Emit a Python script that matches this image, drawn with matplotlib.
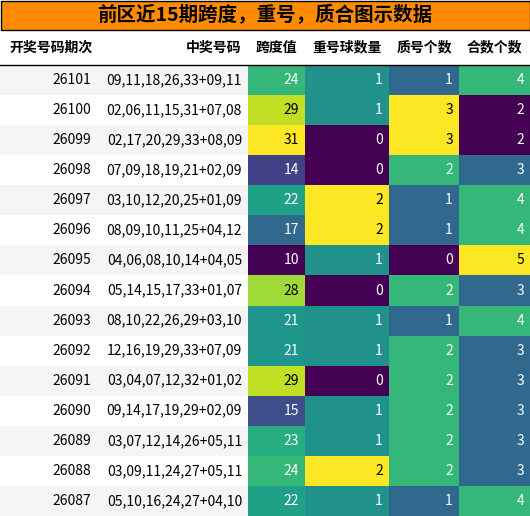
import matplotlib
matplotlib.use("Agg")
import matplotlib.pyplot as plt
from matplotlib.patches import Rectangle
from matplotlib import cm, colors

plt.rcParams['font.family'] = ['Noto Sans CJK SC', 'DejaVu Sans']

# === Daten ===
title = "前区近15期跨度，重号，质合图示数据"
headers = ["开奖号码期次", "中奖号码", "跨度值", "重号球数量", "质号个数", "合数个数"]
periods = ["26101", "26100", "26099", "26098", "26097", "26096", "26095", "26094",
           "26093", "26092", "26091", "26090", "26089", "26088", "26087"]
numbers = ["09,11,18,26,33+09,11", "02,06,11,15,31+07,08", "02,17,20,29,33+08,09",
           "07,09,18,19,21+02,09", "03,10,12,20,25+01,09", "08,09,10,11,25+04,12",
           "04,06,08,10,14+04,05", "05,14,15,17,33+01,07", "08,10,22,26,29+03,10",
           "12,16,19,29,33+07,09", "03,04,07,12,32+01,02", "09,14,17,19,29+02,09",
           "03,07,12,14,26+05,11", "03,09,11,24,27+05,11", "05,10,16,24,27+04,10"]
span = [24, 29, 31, 14, 22, 17, 10, 28, 21, 21, 29, 15, 23, 24, 22]
repeat = [1, 1, 0, 0, 2, 2, 1, 0, 1, 1, 0, 1, 1, 2, 1]
prime = [1, 3, 3, 2, 1, 1, 0, 2, 1, 2, 2, 2, 2, 2, 1]
composite = [4, 2, 2, 3, 4, 4, 5, 3, 4, 3, 3, 3, 3, 3, 4]

# Layout (Pixel)
W, H = 530, 516
col_edges = [0, 100, 248, 305, 389, 459, 530]
title_h = 30
header_h = 35
row_h = (H - title_h - header_h) / len(periods)

fig = plt.figure(figsize=(W / 100, H / 100), dpi=100)
ax = fig.add_axes([0, 0, 1, 1])
ax.set_xlim(0, W)
ax.set_ylim(H, 0)
ax.axis("off")

# Titel
ax.add_patch(Rectangle((0.5, 0.5), W - 1, title_h - 1, facecolor="#ff8c00", edgecolor="black", lw=1))
ax.text(W / 2, title_h / 2, title, ha="center", va="center", fontsize=14, fontweight="bold")

# Kopfzeile
hy = title_h + header_h / 2
for j, h in enumerate(headers):
    if j < 2:
        ax.text(col_edges[j + 1] - 7, hy, h, ha="right", va="center", fontsize=10, fontweight="bold")
    else:
        ax.text((col_edges[j] + col_edges[j + 1]) / 2, hy, h, ha="center", va="center",
                fontsize=10, fontweight="bold")
ax.plot([0, W], [title_h + header_h, title_h + header_h], color="black", lw=1)

cmap = cm.get_cmap("viridis")
value_cols = [span, repeat, prime, composite]

for i in range(len(periods)):
    y0 = title_h + header_h + i * row_h
    yc = y0 + row_h / 2
    if i % 2 == 0:
        ax.add_patch(Rectangle((0, y0), col_edges[2], row_h, facecolor="#f5f5f5", edgecolor="none"))
    ax.text(col_edges[1] - 9, yc, periods[i], ha="right", va="center", fontsize=10)
    ax.text(col_edges[2] - 6, yc, numbers[i], ha="right", va="center", fontsize=10)
    for k, vals in enumerate(value_cols):
        norm = colors.Normalize(min(vals), max(vals))
        c = cmap(norm(vals[i]))
        x0 = col_edges[k + 2]
        ax.add_patch(Rectangle((x0, y0), col_edges[k + 3] - x0, row_h, facecolor=c, edgecolor="none"))
        lum = 0.299 * c[0] + 0.587 * c[1] + 0.114 * c[2]
        ax.text(col_edges[k + 3] - 6, yc, str(vals[i]), ha="right", va="center", fontsize=10,
                color="black" if lum > 0.6 else "white")

fig.savefig("out.png", dpi=100)
